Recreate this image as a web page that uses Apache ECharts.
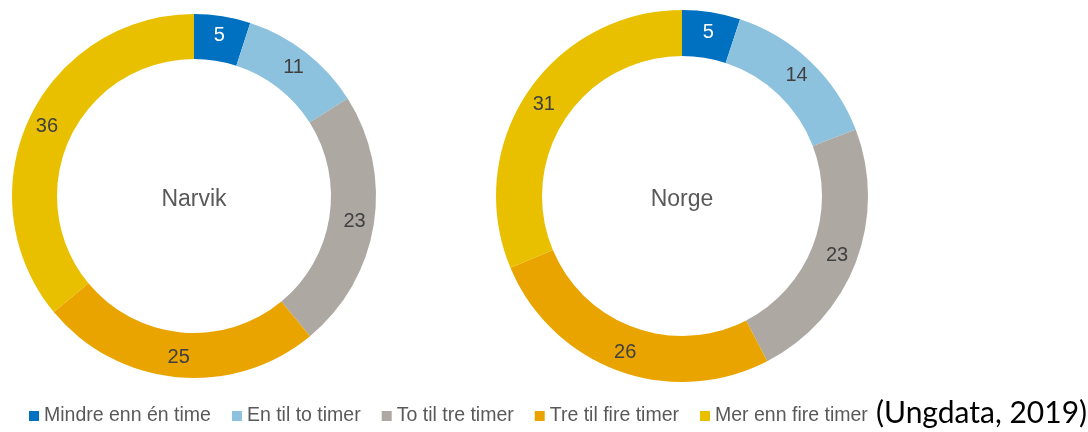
<!DOCTYPE html>
<html>
<head>
<meta charset="utf-8">
<script src="https://cdn.jsdelivr.net/npm/echarts@6/dist/echarts.min.js"></script>
<style>
    html, body { margin: 0; padding: 0; background: #fff; }
    #chart { width: 1088px; height: 432px; }
</style>
</head>
<body>
<div id="chart"></div>
<script>
// kategorier (tid brukt)
var categories = ['Mindre enn én time', 'En til to timer', 'To til tre timer', 'Tre til fire timer', 'Mer enn fire timer'];
var narvikValues = [5, 11, 23, 25, 36];
var norgeValues = [5, 14, 23, 26, 31];
var colors = ['#0070C0', '#8DC2DF', '#ADA8A2', '#EAA400', '#E9C000'];

function makeData(values) {
    return values.map(function (v, i) {
        return {
            name: categories[i],
            value: v,
            // første segment har hvit tekst
            label: i === 0 ? { color: '#ffffff' } : undefined
        };
    });
}

var chartDom = document.getElementById('chart');
var myChart = echarts.init(chartDom);
var option;

var pieBase = {
    type: 'pie',
    startAngle: 90,
    clockwise: true,
    avoidLabelOverlap: false,
    label: {
        show: true,
        position: 'inside',
        formatter: '{c}',
        fontFamily: 'Liberation Sans, Arial, sans-serif',
        fontSize: 20,
        color: '#404040'
    },
    labelLine: { show: false },
    emphasis: { disabled: true },
    itemStyle: { borderWidth: 0 }
};

option = {
    animation: false,
    color: colors,
    legend: {
        data: categories,
        left: 24,
        top: 401,
        icon: 'rect',
        itemWidth: 10,
        itemHeight: 10,
        itemGap: 21,
        textStyle: {
            fontFamily: 'Liberation Sans, Arial, sans-serif',
            fontSize: 19.5,
            color: '#595959'
        }
    },
    graphic: [
        {
            type: 'text',
            left: 876,
            top: 398,
            style: {
                text: '(Ungdata, 2019)',
                font: '30px Lato, sans-serif',
                fill: '#000000'
            }
        },
        {
            type: 'text',
            x: 194,
            y: 200,
            style: {
                text: 'Narvik',
                font: '23px "Liberation Sans", Arial, sans-serif',
                fill: '#595959',
                align: 'center',
                verticalAlign: 'middle'
            }
        },
        {
            type: 'text',
            x: 682,
            y: 200,
            style: {
                text: 'Norge',
                font: '23px "Liberation Sans", Arial, sans-serif',
                fill: '#595959',
                align: 'center',
                verticalAlign: 'middle'
            }
        }
    ],
    series: [
        Object.assign({}, pieBase, {
            name: 'Narvik',
            center: [194, 196],
            radius: [137, 182],
            data: makeData(narvikValues)
        }),
        Object.assign({}, pieBase, {
            name: 'Norge',
            center: [682, 196],
            radius: [140, 186],
            data: makeData(norgeValues)
        })
    ]
};
option && myChart.setOption(option);
</script>
</body>
</html>
